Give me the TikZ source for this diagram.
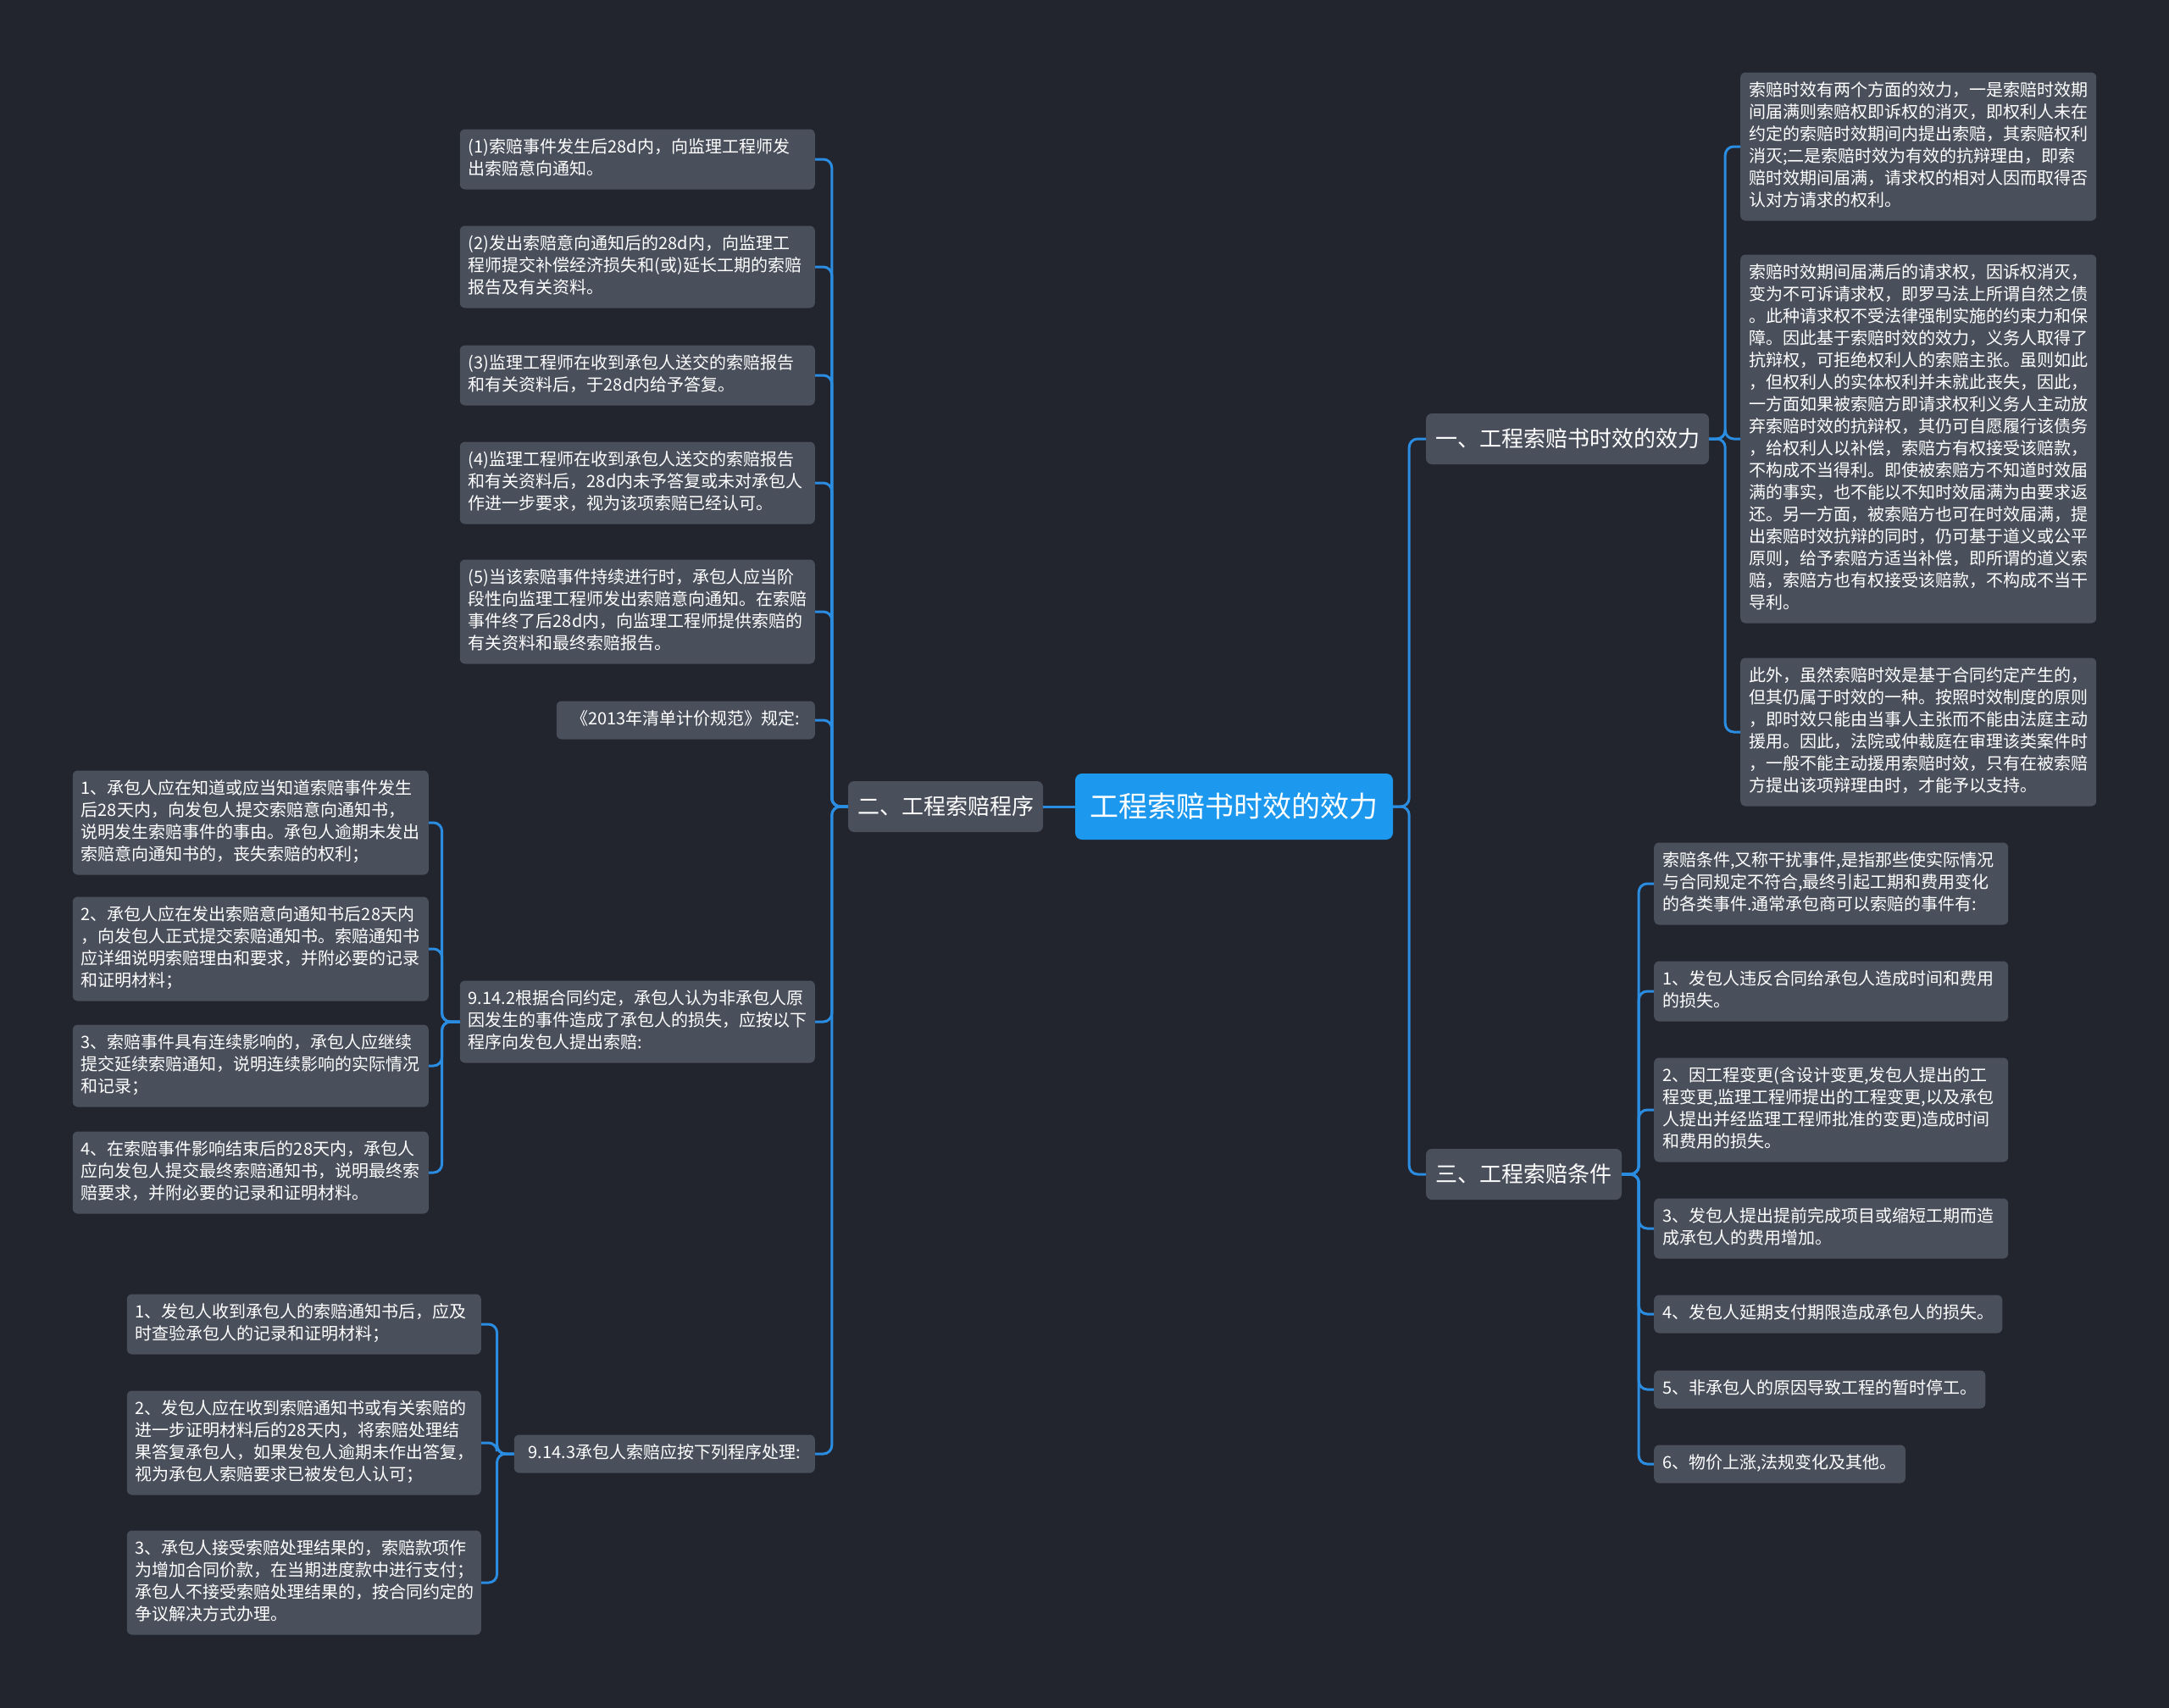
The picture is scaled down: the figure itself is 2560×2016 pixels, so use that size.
\documentclass[tikz,border=0pt]{standalone}
\usepackage{fontspec}
\setmainfont{Noto Sans CJK SC}
\definecolor{bgc}{HTML}{22252E}
\definecolor{leafc}{HTML}{4A4F5C}
\definecolor{rootc}{HTML}{1C98EE}
\definecolor{wirec}{HTML}{2A8DE2}
\tikzset{
  leafbox/.style={fill=leafc, rounded corners=6pt, text=white, align=left,
    inner xsep=10pt, inner ysep=9.5pt, font=\fontsize{20}{26}\selectfont,
    execute at begin node=\strut, execute at end node=\strut},
  branchbox/.style={fill=leafc, rounded corners=7pt, text=white, align=center,
    minimum height=60pt, inner sep=0pt, font=\fontsize{26}{30}\selectfont},
  rootbox/.style={fill=rootc, rounded corners=8pt, text=white, align=center,
    minimum width=375pt, minimum height=78pt, inner sep=0pt, font=\fontsize{34}{40}\selectfont},
  wire/.style={draw=wirec, line width=3pt, rounded corners=10pt},
}
\begin{document}
\begin{tikzpicture}[x=1pt,y=-1pt]
\useasboundingbox (0,0) rectangle (2560,2016);
\fill[bgc] (0,0) rectangle (2560,2016);

% root and branches
\node[rootbox] (root) at (1456.5,952) {工程索赔书时效的效力};
\node[branchbox, minimum width=334pt] (b1) at (1850,518) {一、工程索赔书时效的效力};
\node[branchbox, minimum width=230pt] (b2) at (1116,952) {二、工程索赔程序};
\node[branchbox, minimum width=231pt] (b3) at (1798.5,1386) {三、工程索赔条件};

% branch 2 leaves
\node[leafbox, text width=399pt, anchor=east] (a1) at (962,188) {(1)索赔事件发生后28d内，向监理工程师发\\出索赔意向通知。};
\node[leafbox, text width=399pt, anchor=east] (a2) at (962,315) {(2)发出索赔意向通知后的28d内，向监理工\\程师提交补偿经济损失和(或)延长工期的索赔\\报告及有关资料。};
\node[leafbox, text width=399pt, anchor=east] (a3) at (962,443) {(3)监理工程师在收到承包人送交的索赔报告\\和有关资料后，于28d内给予答复。};
\node[leafbox, text width=399pt, anchor=east] (a4) at (962,570) {(4)监理工程师在收到承包人送交的索赔报告\\和有关资料后，28d内未予答复或未对承包人\\作进一步要求，视为该项索赔已经认可。};
\node[leafbox, text width=399pt, anchor=east] (a5) at (962,722) {(5)当该索赔事件持续进行时，承包人应当阶\\段性向监理工程师发出索赔意向通知。在索赔\\事件终了后28d内，向监理工程师提供索赔的\\有关资料和最终索赔报告。};
\node[leafbox, minimum width=305pt, anchor=east] (a6) at (962,850) {《2013年清单计价规范》规定:};
\node[leafbox, text width=399pt, anchor=east] (a7) at (962,1206) {9.14.2根据合同约定，承包人认为非承包人原\\因发生的事件造成了承包人的损失，应按以下\\程序向发包人提出索赔:};
\node[leafbox, minimum width=355pt, anchor=east] (a8) at (962,1716) {9.14.3承包人索赔应按下列程序处理:};

% 9.14.2 children
\node[leafbox, text width=400pt, anchor=east] (c1) at (506,971) {1、承包人应在知道或应当知道索赔事件发生\\后28天内，向发包人提交索赔意向通知书，\\说明发生索赔事件的事由。承包人逾期未发出\\索赔意向通知书的，丧失索赔的权利；};
\node[leafbox, text width=400pt, anchor=east] (c2) at (506,1120) {2、承包人应在发出索赔意向通知书后28天内\\，向发包人正式提交索赔通知书。索赔通知书\\应详细说明索赔理由和要求，并附必要的记录\\和证明材料；};
\node[leafbox, text width=400pt, anchor=east] (c3) at (506,1258) {3、索赔事件具有连续影响的，承包人应继续\\提交延续索赔通知，说明连续影响的实际情况\\和记录；};
\node[leafbox, text width=400pt, anchor=east] (c4) at (506,1384) {4、在索赔事件影响结束后的28天内，承包人\\应向发包人提交最终索赔通知书，说明最终索\\赔要求，并附必要的记录和证明材料。};

% 9.14.3 children
\node[leafbox, text width=398pt, anchor=east] (d1) at (568,1563) {1、发包人收到承包人的索赔通知书后，应及\\时查验承包人的记录和证明材料；};
\node[leafbox, text width=398pt, anchor=east] (d2) at (568,1703) {2、发包人应在收到索赔通知书或有关索赔的\\进一步证明材料后的28天内，将索赔处理结\\果答复承包人，如果发包人逾期未作出答复，\\视为承包人索赔要求已被发包人认可；};
\node[leafbox, text width=398pt, anchor=east] (d3) at (568,1868) {3、承包人接受索赔处理结果的，索赔款项作\\为增加合同价款，在当期进度款中进行支付；\\承包人不接受索赔处理结果的，按合同约定的\\争议解决方式办理。};

% branch 1 leaves
\node[leafbox, text width=400pt, anchor=west] (r1) at (2054,173) {索赔时效有两个方面的效力，一是索赔时效期\\间届满则索赔权即诉权的消灭，即权利人未在\\约定的索赔时效期间内提出索赔，其索赔权利\\消灭;二是索赔时效为有效的抗辩理由，即索\\赔时效期间届满，请求权的相对人因而取得否\\认对方请求的权利。};
\node[leafbox, text width=400pt, anchor=west] (r2) at (2054,518) {索赔时效期间届满后的请求权，因诉权消灭，\\变为不可诉请求权，即罗马法上所谓自然之债\\。此种请求权不受法律强制实施的约束力和保\\障。因此基于索赔时效的效力，义务人取得了\\抗辩权，可拒绝权利人的索赔主张。虽则如此\\，但权利人的实体权利并未就此丧失，因此，\\一方面如果被索赔方即请求权利义务人主动放\\弃索赔时效的抗辩权，其仍可自愿履行该债务\\，给权利人以补偿，索赔方有权接受该赔款，\\不构成不当得利。即使被索赔方不知道时效届\\满的事实，也不能以不知时效届满为由要求返\\还。另一方面，被索赔方也可在时效届满，提\\出索赔时效抗辩的同时，仍可基于道义或公平\\原则，给予索赔方适当补偿，即所谓的道义索\\赔，索赔方也有权接受该赔款，不构成不当干\\导利。};
\node[leafbox, text width=400pt, anchor=west] (r3) at (2054,864) {此外，虽然索赔时效是基于合同约定产生的，\\但其仍属于时效的一种。按照时效制度的原则\\，即时效只能由当事人主张而不能由法庭主动\\援用。因此，法院或仲裁庭在审理该类案件时\\，一般不能主动援用索赔时效，只有在被索赔\\方提出该项辩理由时，才能予以支持。};

% branch 3 leaves
\node[leafbox, text width=398pt, anchor=west] (s0) at (1952,1043) {索赔条件,又称干扰事件,是指那些使实际情况\\与合同规定不符合,最终引起工期和费用变化\\的各类事件.通常承包商可以索赔的事件有:};
\node[leafbox, text width=398pt, anchor=west] (s1) at (1952,1170) {1、发包人违反合同给承包人造成时间和费用\\的损失。};
\node[leafbox, text width=398pt, anchor=west] (s2) at (1952,1310) {2、因工程变更(含设计变更,发包人提出的工\\程变更,监理工程师提出的工程变更,以及承包\\人提出并经监理工程师批准的变更)造成时间\\和费用的损失。};
\node[leafbox, text width=398pt, anchor=west] (s3) at (1952,1450) {3、发包人提出提前完成项目或缩短工期而造\\成承包人的费用增加。};
\node[leafbox, anchor=west] (s4) at (1952,1551) {4、发包人延期支付期限造成承包人的损失。};
\node[leafbox, anchor=west] (s5) at (1952,1640) {5、非承包人的原因导致工程的暂时停工。};
\node[leafbox, anchor=west] (s6) at (1952,1728) {6、物价上涨,法规变化及其他。};

% connectors
\draw[wire] (root.west) -- (b2.east);
\foreach \b in {b1,b3} \draw[wire] (root.east) -- ++(19,0) |- (\b.west);
\foreach \n in {a1,a2,a3,a4,a5,a6,a7,a8} \draw[wire] (b2.west) -- ++(-19,0) |- (\n.east);
\foreach \n in {c1,c2,c3,c4} \draw[wire] (a7.west) -- ++(-21,0) |- (\n.east);
\foreach \n in {d1,d2,d3} \draw[wire] (a8.west) -- ++(-20,0) |- (\n.east);
\foreach \n in {r1,r2,r3} \draw[wire] (b1.east) -- ++(19,0) |- (\n.west);
\foreach \n in {s0,s1,s2,s3,s4,s5,s6} \draw[wire] (b3.east) -- ++(20,0) |- (\n.west);
\end{tikzpicture}
\end{document}
